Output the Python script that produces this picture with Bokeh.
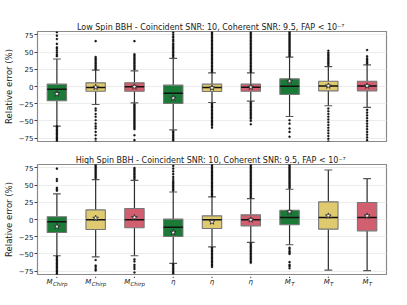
from bokeh.plotting import figure
from bokeh.models import ColumnDataSource, FactorRange, Range1d, FixedTicker
from bokeh.layouts import column
from bokeh.core.properties import value
from bokeh.embed import file_html
from bokeh.resources import INLINE

# ---------------- data ----------------
factors = ["Mchirp-1", "Mchirp-2", "Mchirp-3", "eta-1", "eta-2", "eta-3", "MT-1", "MT-2", "MT-3"]
label_main = ["M", "M", "M", "η", "η", "η", "M", "M", "M"]
label_sub = ["Chirp", "Chirp", "Chirp", "", "", "", "T", "T", "T"]
yticks = [-75, -50, -25, 0, 25, 50, 75]

title_low = "Low Spin BBH - Coincident SNR: 10, Coherent SNR: 9.5, FAP  < 10\u207b\u2077"
title_high = "High Spin BBH - Coincident SNR: 10, Coherent SNR: 9.5, FAP  < 10\u207b\u2077"

low_q1 = [-20.8, -6.8, -6.8, -24.7, -7.3, -6.8, -11.6, -6.3, -6.3]
low_med = [-3.9, -1.5, -0.5, -9.7, -1.5, -1.0, 0.5, 0.9, 0.9]
low_q3 = [3.4, 5.3, 5.3, 2.0, 3.4, 3.4, 11.1, 7.7, 7.7]
low_wlo = [-57.6, -26.2, -23.7, -63.0, -23.3, -21.3, -43.6, -28.0, -30.5]
low_whi = [40.0, 23.7, 22.7, 41.0, 19.8, 19.8, 42.6, 29.0, 31.4]
low_mean = [-10.7, -1.0, -0.5, -16.9, -2.0, -1.0, 7.7, 0.9, 0.9]
low_out = [
    [44, 46, 49, 52, 55, 57, 62, 69, 74, 79, -58, -60, -62, -64, -66, -68, -70, -72, -74, -76, -78, -80],
    [25, 27, 29, 31, 33, 35, 37, 39, 41, 43, 66, -32, -35, -40, -44, -49, -54, -58, -61, -66, -71, -76, -80],
    [25, 27, 29, 31, 33, 35, 37, 39, 41, 43, 45, 47, 66, -26, -28, -30, -32, -34, -36, -38, -40, -42, -44,
     -46, -48, -50, -52, -54, -56, -58, -60, -62, -71, -78],
    [43, 45, 47, 49, 51, 53, 55, 57, 59, 61, 63, 66, 68, 71, 73, 76, 79, -65, -67, -69, -71, -73, -75, -77, -79],
    [21, 23, 25, 27, 29, 31, 33, 35, 37, 39, 41, 43, 45, 47, 49, 51, 53, 55, 57, 59, 61, 63, 65, 67, 69, 71,
     73, 75, 77, 79, -25, -27, -29, -31, -33, -35, -37, -39, -41, -43, -45, -47, -49, -51, -53, -55, -57, -60],
    [21, 23, 25, 27, 29, 31, 33, 35, 37, 39, 41, 43, 45, 47, 49, 51, 53, 55, 57, 59, 61, 63, 65, 67, 69, 71,
     73, 75, 77, 79, -23, -25, -27, -29, -31, -33, -35, -37, -39, -41, -43, -45, -47, -50, -55],
    [44, 46, 48, 50, 52, 54, 56, 58, 60, 62, 64, 66, 68, 70, 72, 74, 76, 78, 80, -49, -54, -61, -66, -73],
    [31, 33, 35, 37, 39, 41, 43, 45, 47, 49, 52, -32, -36, -40, -44, -48, -52, -56, -60, -64, -68, -72, -76, -80],
    [33, 35, 37, 39, 41, 44, 53, -34, -38, -42, -46, -50, -54, -58, -62, -66, -70, -74, -78],
]

high_q1 = [-18.9, -14.5, -12.0, -24.7, -13.0, -9.2, -7.7, -14.0, -16.5]
high_med = [-3.4, -0.5, -0.5, -11.1, -0.5, -0.5, 2.9, 2.9, 2.9]
high_q3 = [3.9, 14.0, 16.0, 0.5, 5.3, 6.8, 13.5, 25.7, 24.7]
high_wlo = [-52.7, -54.5, -52.7, -63.9, -39.7, -33.4, -36.7, -73.5, -74.5]
high_whi = [37.3, 58.0, 57.0, 40.0, 32.9, 30.5, 44.0, 72.0, 59.5]
high_mean = [-10.2, 1.9, 2.9, -18.9, -3.4, -0.5, 11.1, 5.3, 5.3]
high_out = [
    [42, 44, 46, 56, 59, 74, -54, -56, -58, -60, -62, -64, -66, -68, -70, -72, -74, -76, -78, -80],
    [60, 62, 64, 66, 68, 70, 72, 74, 76, 78, 80, -59, -67, -69, -72, -74],
    [59, 61, 63, 65, 67, 69, 71, 73, 75, -58, -61, -66, -69, -72, -77],
    [42, 44, 46, 48, 50, 52, 54, 56, 59, 62, 66, 70, 74, 78, -65, -67, -69, -71, -73, -75, -77, -79],
    [34, 36, 38, 40, 42, 44, 46, 48, 50, 52, 54, 56, 58, 60, 62, 64, 66, 68, 70, 72, 74, 76, 78, 80,
     -41, -43, -45, -47, -49, -51, -53, -55, -57, -59, -61, -63, -65, -67, -69],
    [32, 34, 36, 38, 40, 42, 44, 46, 48, 50, 52, 54, 56, 58, 60, 62, 64, 66, 68, 70, 72, 74, 76, 78, 80,
     -35, -37, -39, -41, -43, -45, -47, -49, -51, -53, -55, -57, -59, -61, -63],
    [46, 48, 50, 52, 54, 56, 58, 60, 62, 64, 66, 68, 70, 72, 74, 76, 78, 80, -41, -43, -46, -48, -50, -62, -66,
     -68, -71],
    [],
    [],
]

# ---------------- style ----------------
palette = ["#1b7a37", "#dfca70", "#d15f6f"]
FONT = "DejaVu Sans"
LEFT = 32
RIGHT = 10
W = 396
TXT = "#1a1a1a"


def text_w(s, size):
    # rough width estimate for italic DejaVu text
    w = {"M": 0.86, "C": 0.70, "h": 0.63, "i": 0.28, "r": 0.41, "p": 0.63, "T": 0.61, "η": 0.63}
    return sum(w.get(c, 0.6) for c in s) * size


def strip(height, xr, yr):
    s = figure(width=W, height=height, output_backend="svg", toolbar_location=None,
               x_axis_location=None, y_axis_location=None, x_range=xr, y_range=yr,
               min_border_left=LEFT, min_border_right=RIGHT, min_border_top=0, min_border_bottom=0)
    s.outline_line_color = None
    s.xgrid.grid_line_color = None
    s.ygrid.grid_line_color = None
    return s


def title_strip(text, height, baseline):
    s = strip(height, Range1d(0, 1), Range1d(height, 0))
    s.text(x=[0.5], y=[baseline], text=[text], text_font=value(FONT), text_font_size="8px",
           text_align="center", text_baseline="alphabetic", text_color=TXT)
    return s


def make_panel(q1, med, q3, wlo, whi, mean, outs, height, bot_b):
    colors = [palette[i % 3] for i in range(len(factors))]
    src = ColumnDataSource(dict(x=factors, q1=q1, med=med, q3=q3, wlo=wlo, whi=whi,
                                mean=mean, color=colors))
    p = figure(x_range=FactorRange(*factors), y_range=Range1d(-80, 80),
               width=W, height=height, output_backend="svg",
               toolbar_location=None, x_axis_location=None,
               min_border_left=LEFT, min_border_right=RIGHT,
               min_border_top=0, min_border_bottom=bot_b)
    p.background_fill_color = "white"
    p.outline_line_color = "#8a8a8a"
    p.outline_line_width = 1.2

    p.xgrid.grid_line_color = None
    p.ygrid.grid_line_color = "#ececec"
    p.ygrid.ticker = FixedTicker(ticks=yticks)

    ya = p.yaxis[0]
    ya.ticker = FixedTicker(ticks=yticks)
    ya.major_label_overrides = {t: (str(t).replace("-", "\u2212")) for t in yticks}
    ya.axis_label = "Relative error (%)"
    ya.axis_label_text_font = FONT
    ya.axis_label_text_font_size = "8.5px"
    ya.axis_label_text_font_style = "normal"
    ya.axis_label_text_color = TXT
    ya.axis_label_standoff = 2
    ya.major_label_text_font = FONT
    ya.major_label_text_font_size = "7px"
    ya.major_label_text_color = TXT
    ya.major_label_standoff = 1
    ya.axis_line_color = None
    ya.major_tick_in = 0
    ya.major_tick_out = 3
    ya.major_tick_line_color = "#444444"
    ya.minor_tick_line_color = None

    # whiskers
    p.segment(x0="x", y0="q3", x1="x", y1="whi", source=src, line_color="#2a2a2a", line_width=1.2)
    p.segment(x0="x", y0="wlo", x1="x", y1="q1", source=src, line_color="#2a2a2a", line_width=1.2)
    # caps
    p.vbar(x="x", width=0.2, top="whi", bottom="whi", source=src, fill_color=None,
           line_color="#555555", line_width=1.2)
    p.vbar(x="x", width=0.2, top="wlo", bottom="wlo", source=src, fill_color=None,
           line_color="#555555", line_width=1.2)

    # outliers
    ox, oy = [], []
    for f, vals in zip(factors, outs):
        for v in vals:
            ox.append(f)
            oy.append(v)
    p.scatter(x=ox, y=oy, size=2.1, marker="circle", fill_color="#111111",
              line_color="#111111", line_width=0.3)

    # boxes
    p.vbar(x="x", width=0.5, top="q3", bottom="q1", source=src, fill_color="color",
           line_color="#767676", line_width=1.1)
    # medians
    p.vbar(x="x", width=0.5, top="med", bottom="med", source=src, fill_color=None,
           line_color="#111111", line_width=1.5)
    # means
    p.scatter(x="x", y="mean", source=src, marker="star", size=6, fill_color="white",
              line_color="#222222", line_width=0.8)
    return p


t1 = title_strip(title_low, 31, 26.8)
p1 = make_panel(low_q1, low_med, low_q3, low_wlo, low_whi, low_mean, low_out, 112, 2)
t2 = title_strip(title_high, 21, 16.8)
p2 = make_panel(high_q1, high_med, high_q3, high_wlo, high_whi, high_mean, high_out, 112, 2)

# ---- x ticks and category labels (M with subscript) below the lower panel ----
ms, ss = 7.0, 5.5
main_off, sub_off = [], []
for m, s in zip(label_main, label_sub):
    wm = text_w(m, ms)
    ws = text_w(s, ss)
    tot = wm + ws
    main_off.append(-tot / 2)
    sub_off.append(-tot / 2 + wm + 0.3)

p3 = strip(16, p2.x_range, Range1d(16, 0))
lsrc = ColumnDataSource(dict(x=factors, main=label_main, sub=label_sub, mo=main_off, so=sub_off,
                             t0=[0.0] * len(factors), t1=[1.6] * len(factors),
                             ym=[5.9] * len(factors), ys=[7.7] * len(factors)))
p3.segment(x0="x", y0="t0", x1="x", y1="t1", source=lsrc, line_color="#444444", line_width=1)
p3.text(x="x", y="ym", text="main", source=lsrc, x_offset="mo",
        text_font=value(FONT), text_font_style="italic", text_font_size="7px",
        text_align="left", text_baseline="alphabetic", text_color=TXT)
p3.text(x="x", y="ys", text="sub", source=lsrc, x_offset="so",
        text_font=value(FONT), text_font_style="italic", text_font_size="5.5px",
        text_align="left", text_baseline="alphabetic", text_color=TXT)

layout = column(t1, p1, t2, p2, p3, spacing=0)
open("out.html", "w").write(file_html(layout, INLINE))
